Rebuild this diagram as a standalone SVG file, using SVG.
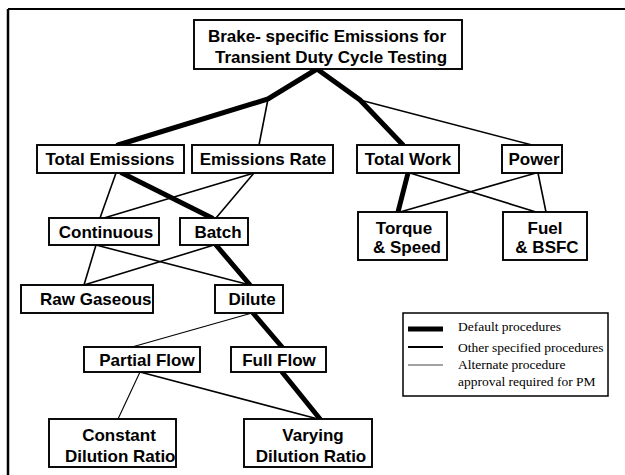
<svg xmlns="http://www.w3.org/2000/svg" width="625" height="475" viewBox="0 0 625 475">
<style>
.box{fill:#fff;stroke:#000;stroke-width:1.9}
.t{font-family:"Liberation Sans",Arial,sans-serif;font-weight:bold;font-size:17px;fill:#000;text-anchor:middle}
.ts{text-anchor:start}
.thick{stroke:#000;stroke-width:5;fill:none;stroke-linecap:round}
.other{stroke:#000;stroke-width:1.6;fill:none}
.alt{stroke:#000;stroke-width:1.1;fill:none}
.lg{font-family:"Liberation Serif","Times New Roman",serif;font-size:13.5px;fill:#000}
</style>
<rect width="625" height="475" fill="#fff"/>
<g id="frame">
<line x1="8" y1="9" x2="625" y2="9" stroke="#000" stroke-width="2"/>
<line x1="8" y1="9" x2="8" y2="475" stroke="#000" stroke-width="2.5"/>
</g>
<g id="connectors">
<polyline class="thick" points="317,69 268,99 118,145"/>
<line class="other" x1="268" y1="99" x2="259" y2="145"/>
<polyline class="thick" points="317,69 360,100 403,145"/>
<line class="other" x1="360" y1="100" x2="532" y2="145"/>
<line class="other" x1="116" y1="173" x2="100" y2="218"/>
<line class="thick" x1="122" y1="173" x2="212" y2="218"/>
<line class="other" x1="254" y1="173" x2="104" y2="218"/>
<line class="other" x1="254" y1="173" x2="216" y2="218"/>
<line class="thick" x1="408" y1="173" x2="398" y2="212"/>
<line class="other" x1="410" y1="173" x2="536" y2="212"/>
<line class="other" x1="536" y1="173" x2="400" y2="212"/>
<line class="other" x1="538" y1="173" x2="546" y2="212"/>
<line class="other" x1="96" y1="245" x2="84" y2="285"/>
<line class="other" x1="96" y1="245" x2="250" y2="285"/>
<line class="other" x1="214" y1="245" x2="84" y2="285"/>
<line class="thick" x1="216" y1="245" x2="250" y2="285"/>
<line class="alt" x1="252" y1="313" x2="132" y2="347"/>
<line class="thick" x1="253" y1="313" x2="282" y2="347"/>
<line class="alt" x1="140" y1="372" x2="118" y2="419"/>
<line class="other" x1="140" y1="372" x2="318" y2="419"/>
<line class="thick" x1="282" y1="372" x2="320" y2="419"/>
</g>
<g id="top">
<rect class="box" x="194" y="20" width="268" height="49"/>
<text class="t" x="327" y="42">Brake- specific Emissions for</text>
<text class="t" x="331" y="63">Transient Duty Cycle Testing</text>
</g>
<g id="total-emissions">
<rect class="box" x="37" y="145" width="147" height="28"/>
<text class="t" x="110" y="165">Total Emissions</text>
</g>
<g id="emissions-rate">
<rect class="box" x="192" y="145" width="141" height="28"/>
<text class="t" x="263" y="165">Emissions Rate</text>
</g>
<g id="total-work">
<rect class="box" x="357" y="145" width="102" height="28"/>
<text class="t" x="408" y="165">Total Work</text>
</g>
<g id="power">
<rect class="box" x="502" y="145" width="60" height="28"/>
<text class="t" x="534" y="165">Power</text>
</g>
<g id="continuous">
<rect class="box" x="49" y="218" width="110" height="27"/>
<text class="t" x="106" y="238">Continuous</text>
</g>
<g id="batch">
<rect class="box" x="180" y="218" width="68" height="27"/>
<text class="t" x="218" y="238">Batch</text>
</g>
<g id="torque-speed">
<rect class="box" x="358" y="212" width="89" height="48"/>
<text class="t" x="404" y="234">Torque</text>
<text class="t" x="407" y="253">&amp; Speed</text>
</g>
<g id="fuel-bsfc">
<rect class="box" x="503" y="212" width="84" height="48"/>
<text class="t" x="545" y="234">Fuel</text>
<text class="t" x="547" y="253">&amp; BSFC</text>
</g>
<g id="raw-gaseous">
<rect class="box" x="21" y="285" width="132" height="28"/>
<text class="t ts" x="40" y="305">Raw Gaseous</text>
</g>
<g id="dilute">
<rect class="box" x="215" y="285" width="68" height="28"/>
<text class="t" x="252" y="305">Dilute</text>
</g>
<g id="partial-flow">
<rect class="box" x="84" y="347" width="116" height="25"/>
<text class="t" x="147" y="366">Partial Flow</text>
</g>
<g id="full-flow">
<rect class="box" x="231" y="347" width="95" height="25"/>
<text class="t" x="279" y="366">Full Flow</text>
</g>
<g id="constant-dilution">
<rect class="box" x="49" y="419" width="127" height="48"/>
<text class="t" x="119" y="441">Constant</text>
<text class="t ts" x="65" y="462">Dilution Ratio</text>
</g>
<g id="varying-dilution">
<rect class="box" x="244" y="419" width="128" height="48"/>
<text class="t" x="313" y="441">Varying</text>
<text class="t" x="311" y="462">Dilution Ratio</text>
</g>
<g id="legend">
<rect x="403" y="313" width="205" height="83" fill="#fff" stroke="#000" stroke-width="1.5"/>
<line x1="408" y1="329" x2="443" y2="329" stroke="#000" stroke-width="5"/>
<line x1="408" y1="347" x2="443" y2="347" stroke="#000" stroke-width="2"/>
<line x1="408" y1="365" x2="443" y2="365" stroke="#444" stroke-width="1"/>
<text class="lg" x="458" y="331">Default procedures</text>
<text class="lg" x="458" y="352">Other specified procedures</text>
<text class="lg" x="458" y="369">Alternate procedure</text>
<text class="lg" x="458" y="386">approval required for PM</text>
</g>
</svg>
